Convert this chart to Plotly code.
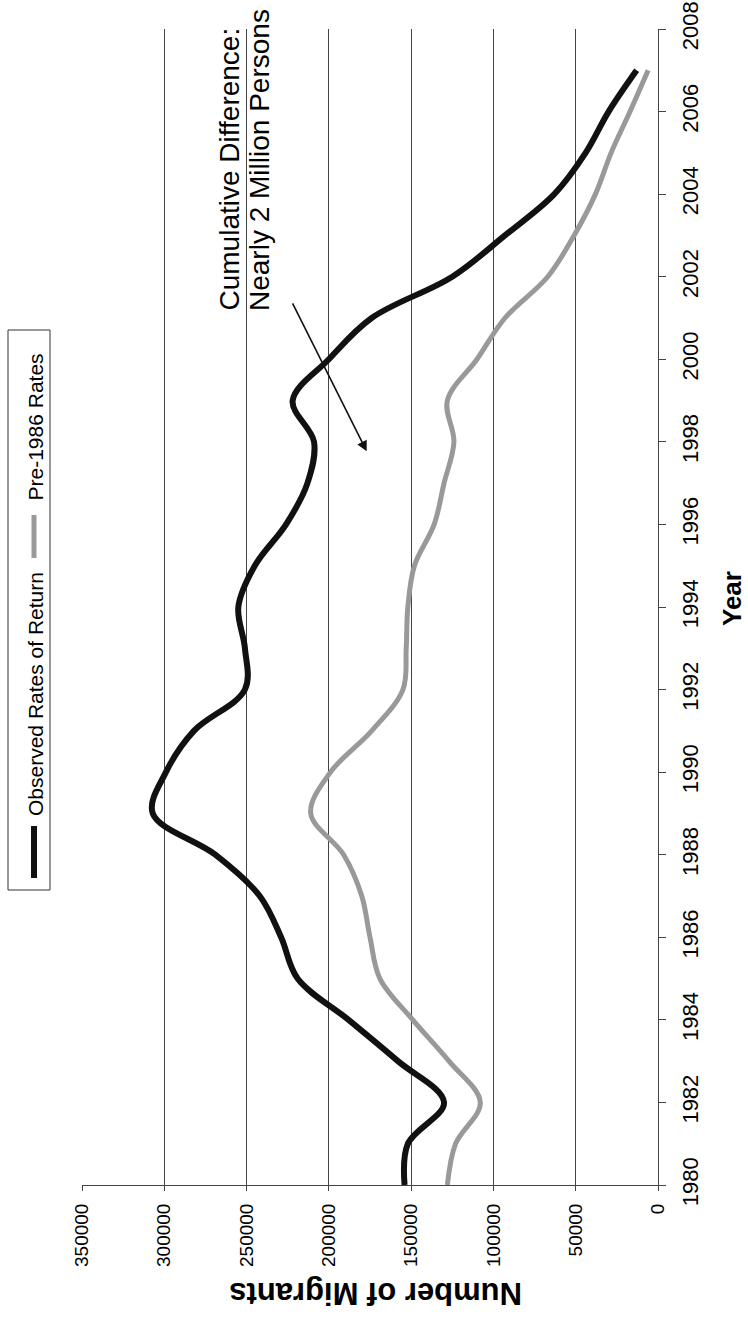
import plotly.graph_objects as go

years = [1980, 1981, 1982, 1983, 1984, 1985, 1986, 1987, 1988, 1989, 1990, 1991, 1992, 1993,
         1994, 1995, 1996, 1997, 1998, 1999, 2000, 2001, 2002, 2003, 2004, 2005, 2006, 2007]
observed = [154000, 152000, 130000, 158000, 188000, 219000, 229000, 242000, 269000, 307000,
            299000, 282000, 251000, 251000, 255000, 245000, 226000, 213000, 209000, 222000,
            200000, 174000, 125000, 93000, 63000, 44000, 30000, 13000]
pre1986 = [128000, 123000, 108000, 127000, 149000, 169000, 175000, 180000, 191000, 211000,
           199000, 174000, 155000, 153000, 152000, 148000, 136000, 130000, 124000, 128000,
           110000, 93000, 67000, 51000, 38000, 28500, 17000, 6000]

value_ticks = [0, 50000, 100000, 150000, 200000, 250000, 300000, 350000]
year_ticks = list(range(1980, 2009, 2))

W, H = 748, 1320
# plot area in page pixels: x 82..658, y 29..1185
L, T = 82, 29
R, B = W - 658, H - 1185
PW, PH = W - L - R, H - T - B

def px_x(p):  # page pixel -> paper x
    return (p - L) / PW

def px_y(p):  # page pixel -> paper y
    return (H - B - p) / PH

FONT = "Liberation Sans, Arial, sans-serif"

fig = go.Figure()
fig.add_trace(go.Scatter(x=observed, y=years, mode="lines", name="Observed Rates of Return",
                         line=dict(color="#111111", width=6, shape="spline")))
fig.add_trace(go.Scatter(x=pre1986, y=years, mode="lines", name="Pre-1986 Rates",
                         line=dict(color="#999999", width=5, shape="spline")))

fig.update_layout(
    width=W, height=H, margin=dict(l=L, r=R, t=T, b=B, autoexpand=False),
    paper_bgcolor="white", plot_bgcolor="white", showlegend=False,
    font=dict(family=FONT, color="black"),
    xaxis=dict(range=[350000, 0], tickvals=value_ticks, tickformat="d", tickangle=-90,
               automargin=False, ticklabeloverflow="allow",
               showgrid=True, gridcolor="#444444", gridwidth=1, zeroline=False,
               showline=True, linecolor="#444444", linewidth=1,
               ticks="outside", ticklen=5, tickcolor="#444444",
               tickfont=dict(size=19, family=FONT), ticklabelstandoff=5),
    yaxis=dict(range=[1980, 2008], tickvals=year_ticks, side="right", tickangle=-90,
               automargin=False, ticklabeloverflow="allow",
               showgrid=False, zeroline=False, showline=True, linecolor="#444444", linewidth=1,
               ticks="outside", ticklen=7, tickcolor="#444444",
               tickfont=dict(size=22, family=FONT), ticklabelstandoff=6),
)

ann = []
# axis titles
ann.append(dict(text="<b>Number of Migrants</b>", xref="paper", yref="paper",
                x=px_x(376), y=px_y(1294), xanchor="center", yanchor="middle",
                textangle=180, showarrow=False, font=dict(size=31, family=FONT)))
ann.append(dict(text="<b>Year</b>", xref="paper", yref="paper",
                x=px_x(732), y=px_y(599), xanchor="center", yanchor="middle",
                textangle=-90, showarrow=False, font=dict(size=26, family=FONT)))
# callout text
ann.append(dict(text="Cumulative Difference:", xref="paper", yref="paper",
                x=px_x(229), y=px_y(313), xanchor="center", yanchor="bottom",
                textangle=-90, showarrow=False, font=dict(size=28, family=FONT)))
ann.append(dict(text="Nearly 2 Million Persons", xref="paper", yref="paper",
                x=px_x(259), y=px_y(313), xanchor="center", yanchor="bottom",
                textangle=-90, showarrow=False, font=dict(size=28, family=FONT)))
# arrow
ann.append(dict(x=177000, y=1997.77, ax=222500, ay=2001.39, xref="x", yref="y",
                axref="x", ayref="y", text="", showarrow=True, arrowhead=2,
                arrowsize=1.3, arrowwidth=1.6, arrowcolor="#111111"))
# legend text
ann.append(dict(text="Observed Rates of Return", xref="paper", yref="paper",
                x=px_x(35), y=px_y(818), xanchor="center", yanchor="bottom",
                textangle=-90, showarrow=False, font=dict(size=21, family=FONT)))
ann.append(dict(text="Pre-1986 Rates", xref="paper", yref="paper",
                x=px_x(35), y=px_y(503), xanchor="center", yanchor="bottom",
                textangle=-90, showarrow=False, font=dict(size=21, family=FONT)))
fig.update_layout(annotations=ann)

shapes = [
    dict(type="rect", xref="paper", yref="paper", x0=px_x(8), x1=px_x(50),
         y0=px_y(890), y1=px_y(330), line=dict(color="#333333", width=1), fillcolor="white",
         layer="above"),
    dict(type="line", xref="paper", yref="paper", x0=px_x(34), x1=px_x(34),
         y0=px_y(878), y1=px_y(826), line=dict(color="#111111", width=6)),
    dict(type="line", xref="paper", yref="paper", x0=px_x(34), x1=px_x(34),
         y0=px_y(558), y1=px_y(515), line=dict(color="#999999", width=5)),
]
fig.update_layout(shapes=shapes)

fig.write_html("out.html", config={"displayModeBar": False},
               post_script="document.body.style.margin='0';document.body.style.overflow='hidden';")
